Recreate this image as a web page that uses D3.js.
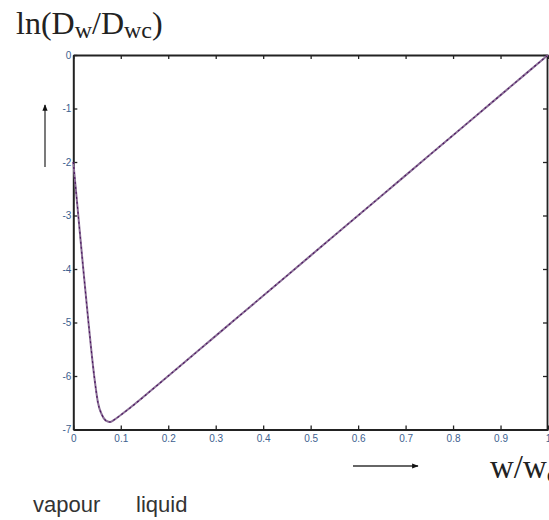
<!DOCTYPE html>
<html>
<head>
<meta charset="utf-8">
<script src="https://cdn.jsdelivr.net/npm/d3@7"></script>
<style>
  body { margin: 0; background: #fff; }
  svg { display: block; }
</style>
</head>
<body>
<div id="chart"></div>
<script>
// values
const xValues = [0, 0.0105, 0.021, 0.032, 0.044, 0.052, 0.06, 0.068, 0.077, 0.086, 0.1, 0.2, 0.3, 0.4, 0.5, 0.6, 0.7, 0.8, 0.9, 1.0];
const yValues = [-2.0, -3.0, -4.0, -5.0, -6.0, -6.5, -6.72, -6.83, -6.86, -6.82, -6.73, -6.0, -5.25, -4.5, -3.75, -3.0, -2.25, -1.5, -0.75, 0];
const xTicks = [0, 0.1, 0.2, 0.3, 0.4, 0.5, 0.6, 0.7, 0.8, 0.9, 1];
const xTickLabels = ["0", "0.1", "0.2", "0.3", "0.4", "0.5", "0.6", "0.7", "0.8", "0.9", "1"];
const yTicks = [0, -1, -2, -3, -4, -5, -6, -7];
const yTickLabels = ["0", "-1", "-2", "-3", "-4", "-5", "-6", "-7"];

const width = 549, height = 520;
const margin = { top: 55, right: 1, bottom: 90.5, left: 73.3 };

const svg = d3.select("#chart").append("svg")
  .attr("width", width)
  .attr("height", height);

const x = d3.scaleLinear().domain([0, 1]).range([margin.left, width - margin.right]);
const y = d3.scaleLinear().domain([-7, 0]).range([height - margin.bottom, margin.top]);

const tickColor = "#3d5f8f";
const tickFont = "10px 'Liberation Sans', Arial, sans-serif";

// frame with inward ticks
svg.append("g")
  .attr("transform", `translate(0,${y(-7)})`)
  .call(d3.axisBottom(x).tickValues(xTicks).tickSizeInner(-4).tickSizeOuter(0)
    .tickFormat((d, i) => xTickLabels[i]))
  .call(g => g.select(".domain").attr("stroke", "#222").attr("stroke-width", 1.8))
  .call(g => g.selectAll(".tick line").attr("stroke", "#222").attr("stroke-width", 1.3))
  .call(g => g.selectAll(".tick text").attr("y", 5)
    .attr("fill", tickColor).style("font", tickFont));

svg.append("g")
  .attr("transform", `translate(0,${y(0)})`)
  .call(d3.axisTop(x).tickValues(xTicks).tickSizeInner(-4).tickSizeOuter(0).tickFormat(""))
  .call(g => g.select(".domain").attr("stroke", "#222").attr("stroke-width", 1.8))
  .call(g => g.selectAll(".tick line").attr("stroke", "#222").attr("stroke-width", 1.3));

svg.append("g")
  .attr("transform", `translate(${x(0)},0)`)
  .call(d3.axisLeft(y).tickValues(yTicks).tickSizeInner(-4).tickSizeOuter(0)
    .tickFormat((d, i) => yTickLabels[i]))
  .call(g => g.select(".domain").attr("stroke", "#222").attr("stroke-width", 2))
  .call(g => g.selectAll(".tick line").attr("stroke", "#222").attr("stroke-width", 1.3))
  .call(g => g.selectAll(".tick text").attr("x", -2)
    .attr("fill", tickColor).style("font", tickFont));

svg.append("g")
  .attr("transform", `translate(${x(1) - 1},0)`)
  .call(d3.axisRight(y).tickValues(yTicks).tickSizeInner(-4).tickSizeOuter(0).tickFormat(""))
  .call(g => g.select(".domain").attr("stroke", "#222").attr("stroke-width", 1.8))
  .call(g => g.selectAll(".tick line").attr("stroke", "#222").attr("stroke-width", 1.3));

// curve
const pts = xValues.map((v, i) => [v, yValues[i]]);
const line = d3.line()
  .x(d => x(d[0]))
  .y(d => y(d[1]))
  .curve(d3.curveMonotoneX);

svg.append("path")
  .datum(pts)
  .attr("fill", "none")
  .attr("stroke", "#8a6f96")
  .attr("stroke-width", 2)
  .attr("d", line);

svg.append("path")
  .datum(pts)
  .attr("fill", "none")
  .attr("stroke", "#4b1360")
  .attr("stroke-width", 1.1)
  .attr("stroke-dasharray", "2,3")
  .attr("d", line);

// arrows
const defs = svg.append("defs");
defs.append("marker")
  .attr("id", "head")
  .attr("viewBox", "0 0 10 10")
  .attr("refX", 9).attr("refY", 5)
  .attr("markerWidth", 5).attr("markerHeight", 5)
  .attr("orient", "auto")
  .append("path")
  .attr("d", "M0,1 L10,5 L0,9 Z")
  .attr("fill", "#111");

svg.append("line")
  .attr("x1", 45).attr("y1", 167).attr("x2", 45).attr("y2", 105)
  .attr("stroke", "#333").attr("stroke-width", 1.3)
  .attr("marker-end", "url(#head)");

svg.append("line")
  .attr("x1", 353).attr("y1", 466).attr("x2", 418).attr("y2", 466)
  .attr("stroke", "#333").attr("stroke-width", 1.3)
  .attr("marker-end", "url(#head)");

// axis titles
const serif = "'Liberation Serif', 'Times New Roman', serif";
const title = svg.append("text")
  .attr("x", 16).attr("y", 34)
  .attr("fill", "#222")
  .style("font-family", serif)
  .style("font-size", "32px");
title.append("tspan").text("ln(D");
title.append("tspan").attr("dy", 4).style("font-size", "24px").text("w");
title.append("tspan").attr("dy", -4).text("/D");
title.append("tspan").attr("dy", 4).style("font-size", "24px").text("wc");
title.append("tspan").attr("dy", -4).text(")");

const xTitle = svg.append("text")
  .attr("x", 490).attr("y", 478)
  .attr("fill", "#222")
  .style("font-family", serif)
  .style("font-size", "33px");
xTitle.append("tspan").text("w/w");
xTitle.append("tspan").attr("dy", 4).style("font-size", "24px").text("c");

// phase labels
const sans = "'Liberation Sans', Arial, sans-serif";
svg.append("text")
  .attr("x", 33).attr("y", 512)
  .attr("fill", "#333")
  .style("font-family", sans).style("font-size", "22px")
  .text("vapour");
svg.append("text")
  .attr("x", 136).attr("y", 512)
  .attr("fill", "#333")
  .style("font-family", sans).style("font-size", "22px")
  .text("liquid");
</script>
</body>
</html>
